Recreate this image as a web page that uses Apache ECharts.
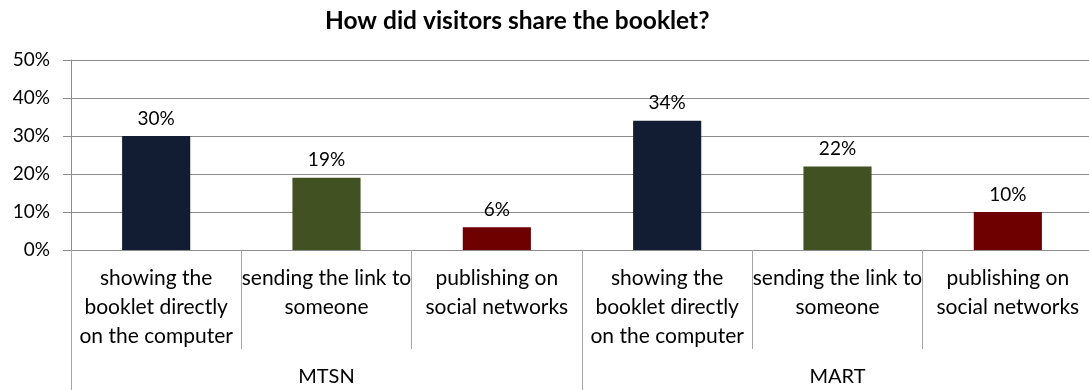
<!DOCTYPE html>
<html>
<head>
<meta charset="utf-8">
<script src="https://cdn.jsdelivr.net/npm/echarts@6/dist/echarts.min.js"></script>
<style>
  html, body { margin: 0; padding: 0; background: #fff; overflow: hidden; }
  /* plot area runs slightly past the right edge of the page */
  #chart { width: 1093px; height: 390px; }
</style>
</head>
<body>
<div id="chart"></div>
<script>
// Sharing methods per site (percent of visitors)
const categories = [
  'showing the\nbooklet directly\non the computer',
  'sending the link to\nsomeone',
  'publishing on\nsocial networks',
  'showing the\nbooklet directly\non the computer',
  'sending the link to\nsomeone',
  'publishing on\nsocial networks'
];
const groups = ['MTSN', 'MART'];
const values = [30, 19, 6, 34, 22, 10];
const yTicks = [0, 10, 20, 30, 40, 50];

// One colour per sharing method, repeated for each site
const methodColors = ['#121d33', '#425122', '#6e0000'];

const FONT = 'Lato';
const GRID_COLOR = '#8c8c8c';
const DIVIDER_COLOR = '#a6a6a6';

const chart = echarts.init(document.getElementById('chart'), null, { renderer: 'canvas' });

chart.setOption({
  animation: false,
  backgroundColor: '#ffffff',
  title: {
    text: 'How did visitors share the booklet?',
    left: 320,
    top: 4,
    textStyle: { fontFamily: FONT, fontSize: 24.5, fontWeight: 'bold', color: '#000' }
  },
  grid: { left: 71, right: 0, top: 60, bottom: 140, containLabel: false },
  xAxis: [
    {
      type: 'category',
      data: categories,
      position: 'bottom',
      axisLine: { show: true, lineStyle: { color: GRID_COLOR, width: 1 } },
      axisTick: { show: true, length: 99, alignWithLabel: false, lineStyle: { color: DIVIDER_COLOR } },
      axisLabel: {
        interval: 0,
        margin: 14,
        fontFamily: FONT,
        fontSize: 21,
        lineHeight: 29,
        color: '#000',
        align: 'center'
      }
    },
    {
      type: 'category',
      data: groups,
      position: 'bottom',
      gridIndex: 0,
      axisLine: { show: false },
      axisTick: { show: true, length: 140, alignWithLabel: false, lineStyle: { color: DIVIDER_COLOR } },
      axisLabel: {
        interval: 0,
        margin: 116,
        fontFamily: FONT,
        fontSize: 20,
        lineHeight: 22,
        color: '#000'
      }
    }
  ],
  yAxis: {
    type: 'value',
    min: yTicks[0],
    max: yTicks[yTicks.length - 1],
    interval: 10,
    axisLine: { show: true, lineStyle: { color: GRID_COLOR } },
    axisTick: { show: true, length: 8, lineStyle: { color: GRID_COLOR } },
    splitLine: { show: true, lineStyle: { color: GRID_COLOR, width: 1 } },
    axisLabel: {
      margin: 21,
      fontFamily: FONT,
      fontSize: 19,
      color: '#000',
      formatter: v => v + '%'
    }
  },
  series: [
    {
      type: 'bar',
      xAxisIndex: 0,
      barWidth: '40%',
      data: values.map((v, i) => ({
        value: v,
        itemStyle: { color: methodColors[i % methodColors.length] }
      })),
      label: {
        show: true,
        position: 'top',
        distance: 8,
        fontFamily: FONT,
        fontSize: 19,
        color: '#000',
        formatter: p => p.value + '%'
      }
    }
  ]
});
</script>
</body>
</html>
